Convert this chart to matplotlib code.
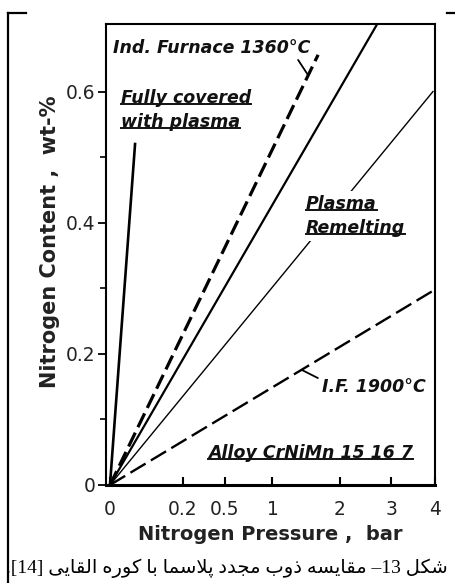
import numpy as np
import matplotlib
matplotlib.use('Agg')
import matplotlib.pyplot as plt
from matplotlib.lines import Line2D

# ---- data (pressure in bar, nitrogen in wt-%) ----
pressure_ticks = [0, 0.2, 0.5, 1, 2, 3, 4]
pressure_labels = ['0', '0.2', '0.5', '1', '2', '3', '4']
content_ticks = [0, 0.2, 0.4, 0.6]
content_labels = ['0', '0.2', '0.4', '0.6']

covered_p = [0, 0.024]      # fully covered with plasma
covered_n = [0, 0.522]
furnace1360_p = [0, 1.64]   # induction furnace 1360 C
furnace1360_n = [0, 0.656]
partial_p = [0, 2.72]       # unlabelled solid line
partial_n = [0, 0.705]
remelt_p = [0, 3.95]        # plasma remelting
remelt_n = [0, 0.600]
furnace1900_p = [0, 4.0]    # I.F. 1900 C
furnace1900_n = [0, 0.298]

caption_words = ['شکل', '13–', 'مقایسه', 'ذوب', 'مجدد', 'پلاسما', 'با', 'کوره', 'القایی', '[14].']

# ---- tiny arabic shaper (matplotlib does no shaping / bidi) ----
FORMS = {  # isolated, final, initial, medial
    'ا': ('\uFE8D', '\uFE8E', None, None),
    'ب': ('\uFE8F', '\uFE90', '\uFE91', '\uFE92'),
    'پ': ('\uFB56', '\uFB57', '\uFB58', '\uFB59'),
    'ج': ('\uFE9D', '\uFE9E', '\uFE9F', '\uFEA0'),
    'د': ('\uFEA9', '\uFEAA', None, None),
    'ذ': ('\uFEAB', '\uFEAC', None, None),
    'ر': ('\uFEAD', '\uFEAE', None, None),
    'س': ('\uFEB1', '\uFEB2', '\uFEB3', '\uFEB4'),
    'ش': ('\uFEB5', '\uFEB6', '\uFEB7', '\uFEB8'),
    'ق': ('\uFED5', '\uFED6', '\uFED7', '\uFED8'),
    'ک': ('\uFB8E', '\uFB8F', '\uFB90', '\uFB91'),
    'ل': ('\uFEDD', '\uFEDE', '\uFEDF', '\uFEE0'),
    'م': ('\uFEE1', '\uFEE2', '\uFEE3', '\uFEE4'),
    'ه': ('\uFEE9', '\uFEEA', '\uFEEB', '\uFEEC'),
    'و': ('\uFEED', '\uFEEE', None, None),
    'ی': ('\uFBFC', '\uFBFD', '\uFBFE', '\uFBFF'),
}


def dual(c):
    return c in FORMS and FORMS[c][2] is not None


def shape(word):
    if word[0] not in FORMS:
        # neutral/number token: trailing punctuation goes to the left
        i = len(word)
        while i > 0 and word[i-1] in '.–-':
            i -= 1
        return word[i:] + word[:i]
    out = []
    prev = None
    i = 0
    while i < len(word):
        c = word[i]
        nxt = word[i+1] if i+1 < len(word) else None
        jp = prev is not None and dual(prev)
        if c == 'ل' and nxt == 'ا':
            out.append('\uFEFC' if jp else '\uFEFB')
            prev = 'ا'
            i += 2
            continue
        jn = dual(c) and nxt in FORMS
        iso, fin, ini, med = FORMS[c]
        if jp and jn:
            out.append(med)
        elif jp:
            out.append(fin)
        elif jn:
            out.append(ini)
        else:
            out.append(iso)
        prev = c
        i += 1
    return ''.join(reversed(out))


def fwd(x):
    x = np.asarray(x, float)
    return np.sign(x) * np.sqrt(np.abs(x))


def inv(y):
    y = np.asarray(y, float)
    return np.sign(y) * y ** 2


fig = plt.figure(figsize=(4.55, 5.83), dpi=100)
ax = fig.add_axes([106/455, 1-485/583, 329/455, 461/583])
ax.set_xscale('function', functions=(fwd, inv))

ax.plot(covered_p, covered_n, color='black', lw=1.9, solid_capstyle='butt')
ax.plot(furnace1360_p, furnace1360_n, color='black', lw=2.3, dashes=(4.8, 1.9))
ax.plot(partial_p, partial_n, color='black', lw=1.6)
ax.plot(remelt_p, remelt_n, color='black', lw=1.0)
ax.plot(furnace1900_p, furnace1900_n, color='black', lw=1.7, dashes=(7.5, 2.6))

ax.set_xlim(-0.0006, 4)
ax.set_ylim(0, 0.703)
ax.set_xticks(pressure_ticks)
ax.set_xticklabels(pressure_labels)
ax.set_yticks(content_ticks)
ax.set_yticklabels(content_labels)
ax.set_yticks([0.1, 0.3, 0.5], minor=True)
ax.xaxis.set_minor_locator(matplotlib.ticker.NullLocator())
ax.tick_params(axis='x', direction='in', length=6, width=1.5, pad=11,
               labelsize=13.4, top=False)
ax.tick_params(axis='y', which='major', direction='out', length=6, width=1.3,
               pad=1.5, labelsize=13.4)
ax.tick_params(axis='y', which='minor', direction='out', length=4, width=1.2)
for lab in ax.get_xticklabels() + ax.get_yticklabels():
    lab.set_color('#222222')
for s in ['left', 'top', 'right']:
    ax.spines[s].set_linewidth(1.5)
ax.spines['bottom'].set_linewidth(2.2)

fig.text(270/455, 1-535/583, 'Nitrogen Pressure ,  bar', ha='center', va='center',
         fontsize=14, fontweight='bold', color='#222222')
fig.text(50/455, 1-242/583, 'Nitrogen Content ,  wt-%', ha='center', va='center',
         rotation=90, fontsize=15, fontweight='bold', color='#222222')

lab_kw = dict(fontsize=12.5, fontweight='bold', fontstyle='italic',
              transform=ax.transAxes, va='center', ha='left', color='#111111')
ax.text(0.021, 0.948, 'Ind. Furnace 1360°C', **lab_kw)
t1 = ax.text(0.046, 0.839, 'Fully covered', **lab_kw)
t2 = ax.text(0.046, 0.787, 'with plasma', **lab_kw)
box = dict(facecolor='white', edgecolor='none', pad=2.5)
t3 = ax.text(0.608, 0.610, 'Plasma', bbox=box, **lab_kw)
t4 = ax.text(0.608, 0.557, 'Remelting', bbox=box, **lab_kw)
ax.text(0.657, 0.213, 'I.F. 1900°C', **lab_kw)
t5 = ax.text(0.310, 0.069, 'Alloy CrNiMn 15 16 7', **lab_kw)

# leader lines from labels to curves
ax.annotate('', xy=(1.485, 0.513 * np.sqrt(1.485)), xytext=(0.584, 0.922),
            textcoords='axes fraction',
            arrowprops=dict(arrowstyle='-', lw=1.3, color='black', shrinkA=0, shrinkB=0))
ax.annotate('', xy=(1.39, 0.149 * np.sqrt(1.39)), xytext=(0.644, 0.232),
            textcoords='axes fraction',
            arrowprops=dict(arrowstyle='-', lw=1.3, color='black', shrinkA=0, shrinkB=0))

# underline labels
fig.canvas.draw()
r = fig.canvas.get_renderer()
tf = fig.transFigure.inverted()
for t in [t1, t2, t3, t4, t5]:
    bb = t.get_window_extent(renderer=r)
    y = bb.y0 + 0.18 * bb.height
    (x0, y0), (x1, _) = tf.transform([(bb.x0, y), (bb.x1, y)])
    fig.add_artist(Line2D([x0, x1], [y0, y0], lw=1.4, color='#111111'))

# scanned page frame
fig.add_artist(Line2D([8/455, 8/455], [0, 1-13/583], lw=1.6, color='black'))
fig.add_artist(Line2D([8/455, 26/455], [1-13/583, 1-13/583], lw=1.6, color='black'))
fig.add_artist(Line2D([447/455, 1], [1-13/583, 1-13/583], lw=1.6, color='black'))

caption = ' '.join(shape(w) for w in reversed(caption_words))
fig.text(448/455, 1-568/583, caption, ha='right', va='center', fontsize=14,
         family=['Liberation Serif', 'DejaVu Sans'], color='black')

fig.savefig('out.png', dpi=100)
